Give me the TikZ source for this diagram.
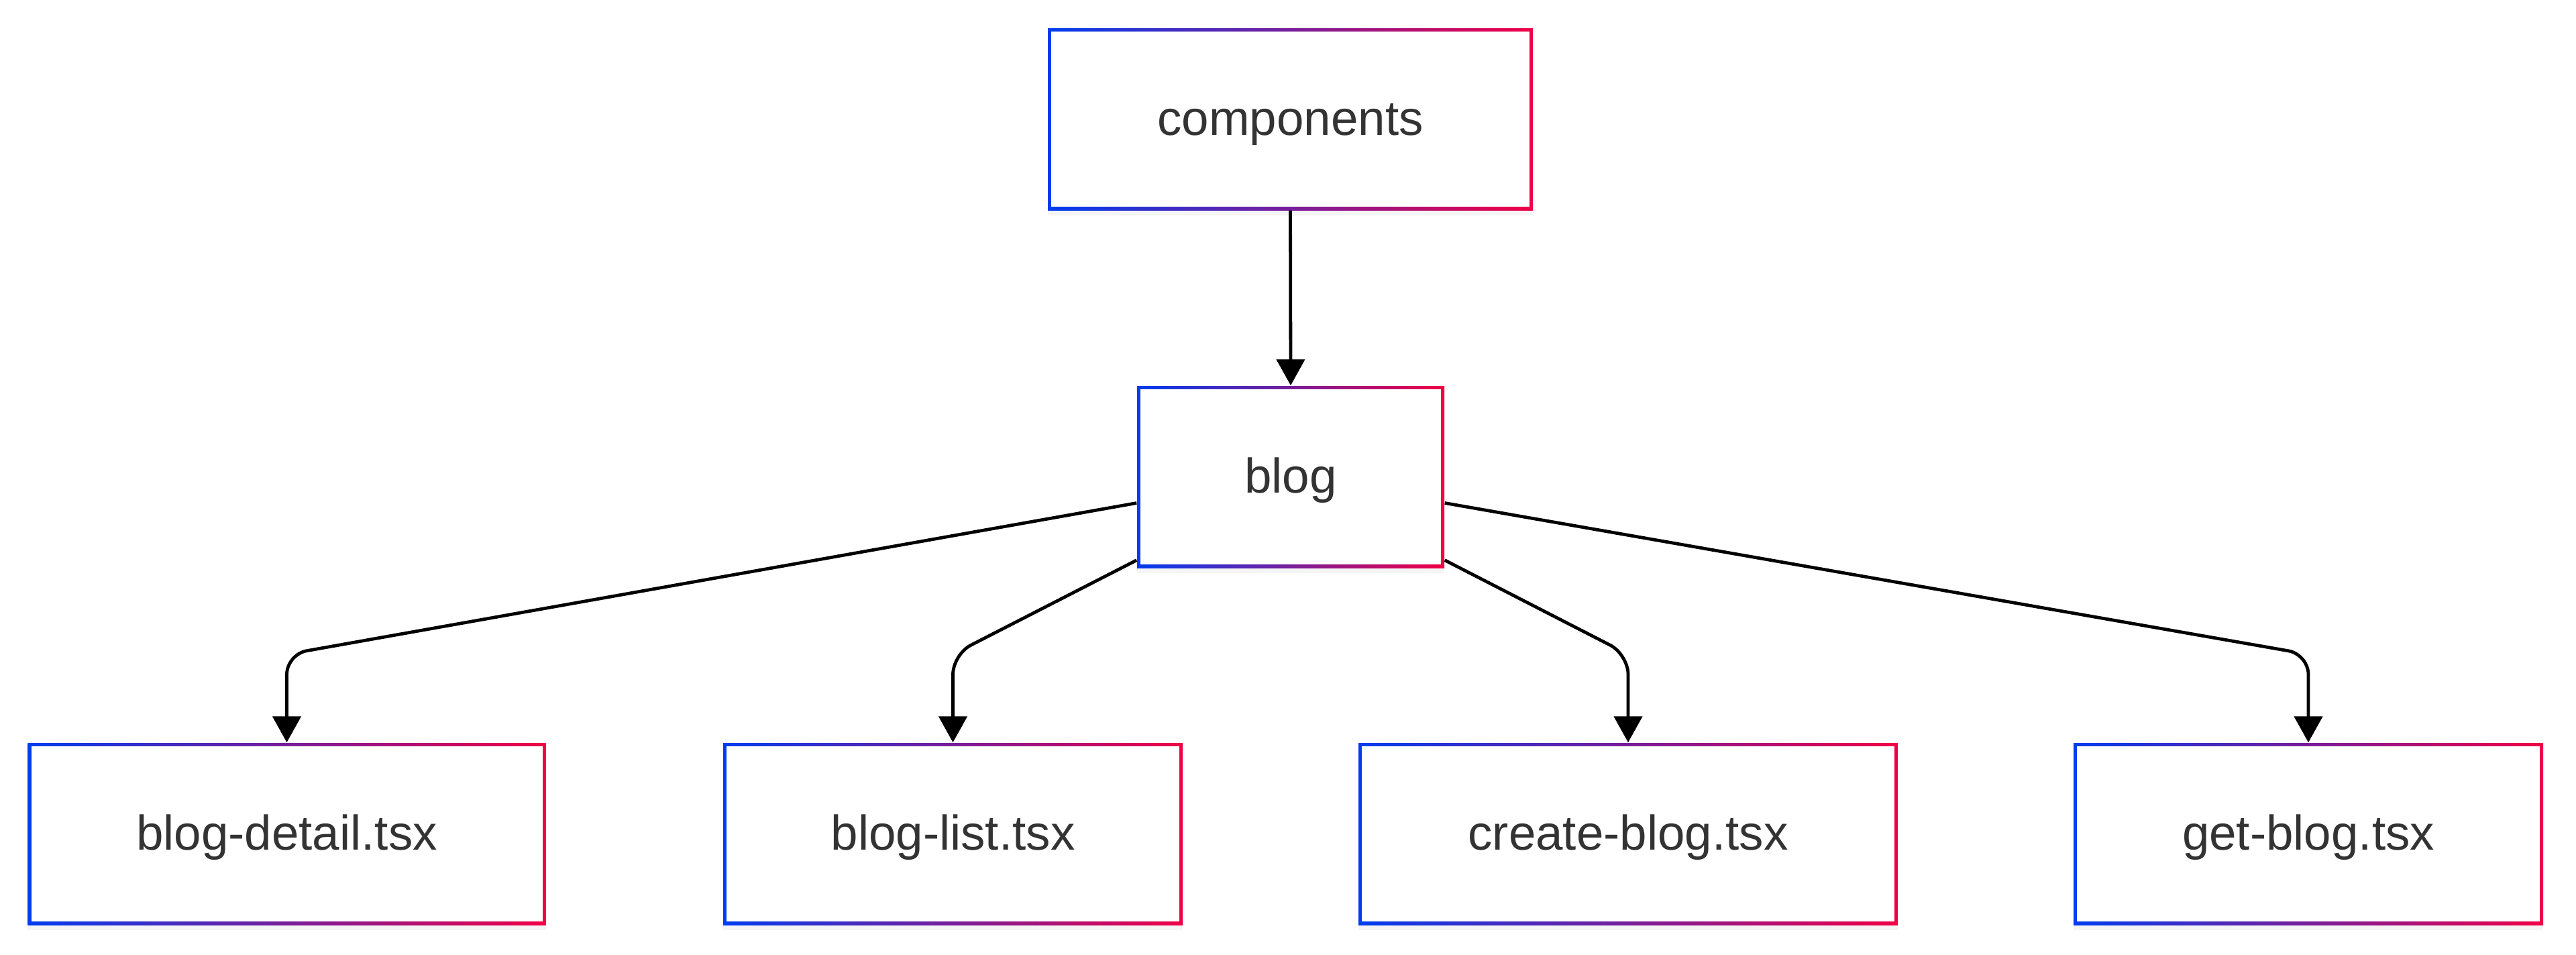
\documentclass[tikz,border=0pt]{standalone}
\usepackage{fontspec}
\setmainfont{Liberation Sans}
\usetikzlibrary{arrows.meta,shadows}
\definecolor{bordeazul}{RGB}{0,60,240}
\definecolor{borderojo}{RGB}{240,0,70}
\definecolor{textogris}{RGB}{51,51,51}
\tikzset{
  archivo/.style={rectangle, minimum height=2.71cm, inner sep=0pt,
    text height=13.4pt, text depth=0pt,
    left color=bordeazul, right color=borderojo,
    path picture={\fill[white] ([shift={(0.05,0.05)}]path picture bounding box.south west)
      rectangle ([shift={(-0.05,-0.05)}]path picture bounding box.north east);},
    font=\fontsize{20.7}{25}\selectfont, text=textogris,
    drop shadow={opacity=0.08, shadow xshift=0cm, shadow yshift=-0.08cm}},
  enlace/.style={line width=0.048cm, -{Triangle[length=0.39cm,width=0.42cm]},
    rounded corners=0.3cm}
}
\begin{document}
\begin{tikzpicture}
    \useasboundingbox (0,0) rectangle (38.4,-14.22);
    % Carpetas
    \node[archivo, minimum width=7.23cm] (components) at (19.235,-1.775) {components};
    \node[archivo, minimum width=4.58cm] (blog) at (19.24,-7.105) {blog};
    % Archivos
    \node[archivo, minimum width=7.72cm] (detail) at (4.275,-12.425) {blog-detail.tsx};
    \node[archivo, minimum width=6.85cm] (list) at (14.205,-12.425) {blog-list.tsx};
    \node[archivo, minimum width=8.04cm] (create) at (24.27,-12.425) {create-blog.tsx};
    \node[archivo, minimum width=7.00cm] (get) at (34.41,-12.425) {get-blog.tsx};
    % Altura del codo
    \coordinate (codo) at (0,-9.75);
    % Enlaces
    \draw[enlace] (components.south) -- (blog.north);
    \draw[enlace] ([yshift=-0.39cm]blog.west) -- (detail.north |- codo) -- (detail.north);
    \draw[enlace] ([yshift=0.12cm]blog.south west) -- (list.north |- codo) -- (list.north);
    \draw[enlace] ([yshift=0.12cm]blog.south east) -- (create.north |- codo) -- (create.north);
    \draw[enlace] ([yshift=-0.39cm]blog.east) -- (get.north |- codo) -- (get.north);
\end{tikzpicture}
\end{document}
